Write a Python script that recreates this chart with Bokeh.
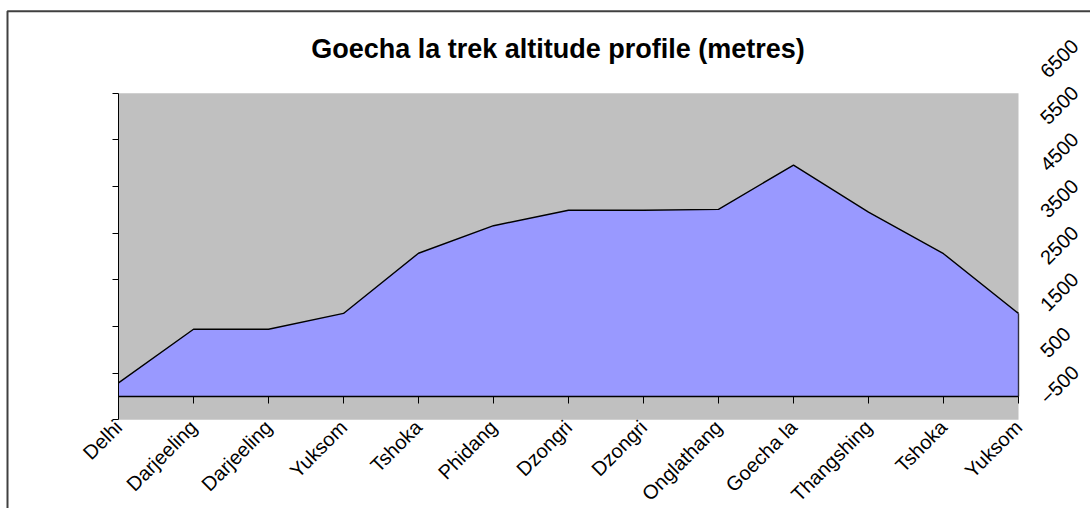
import math
from bokeh.plotting import figure
from bokeh.models import LinearAxis, FixedTicker, Range1d, Label
from bokeh.embed import file_html
from bokeh.resources import INLINE

# ---- data ----
stops = ["Delhi", "Darjeeling", "Darjeeling", "Yuksom", "Tshoka", "Phidang",
         "Dzongri", "Dzongri", "Onglathang", "Goecha la", "Thangshing",
         "Tshoka", "Yuksom"]
altitude = [290, 1440, 1440, 1780, 3070, 3660, 3990, 3990, 4010, 4960,
            3950, 3060, 1780]
value_ticks = [-500, 500, 1500, 2500, 3500, 4500, 5500, 6500]
title_text = "Goecha la trek altitude profile (metres)"

positions = list(range(len(stops)))
FONT = "Liberation Sans"

# ---- layout (pixels) ----
W, H = 1090, 508
PLOT_LEFT, PLOT_RIGHT = 118, 1018
PLOT_TOP, PLOT_BOTTOM = 92.7, 419.3
RIGHT_LABEL_SHIFT_PX = 19
BORDER_X, BORDER_Y = 7, 10.7

xs = (PLOT_RIGHT - PLOT_LEFT) / (positions[-1] - positions[0])
ys = (PLOT_BOTTOM - PLOT_TOP) / (value_ticks[-1] - value_ticks[0])
x_start = positions[0] - PLOT_LEFT / xs
x_end = positions[-1] + (W - PLOT_RIGHT) / xs
y_end = value_ticks[-1] + PLOT_TOP / ys
y_start = value_ticks[0] - (H - PLOT_BOTTOM) / ys
shift = RIGHT_LABEL_SHIFT_PX / ys


def px_to_x(px):
    return x_start + px / xs


def py_to_y(py):
    return y_end - py / ys


p = figure(width=W, height=H, output_backend="svg", toolbar_location=None,
           x_range=Range1d(x_start, x_end), y_range=Range1d(y_start, y_end),
           x_axis_location=None, y_axis_location=None,
           min_border=0, min_border_left=0, min_border_right=0,
           min_border_top=0, min_border_bottom=0,
           background_fill_color="white", border_fill_color="white",
           outline_line_color=None)
p.grid.grid_line_color = None
p.extra_y_ranges = {"labels": Range1d(y_start - shift, y_end - shift)}

# chart border (left and top edges; the rest lies outside the picture)
p.line(x=[px_to_x(BORDER_X), px_to_x(BORDER_X), px_to_x(W + 20)],
       y=[py_to_y(H + 20), py_to_y(BORDER_Y), py_to_y(BORDER_Y)],
       line_color="#404040", line_width=2)

# plot area background
p.quad(left=[positions[0]], right=[positions[-1]],
       bottom=[value_ticks[0]], top=[value_ticks[-1]],
       fill_color="#C0C0C0", line_color=None)

# area series
p.varea(x=positions, y1=0, y2=altitude, fill_color="#9999FF")
p.line(positions, altitude, line_color="black", line_width=1.4)
p.segment(x0=[positions[-1]], y0=[0], x1=[positions[-1]], y1=[altitude[-1]],
          line_color="#303040", line_width=1.4)

# left value axis: ticks only
left = LinearAxis(fixed_location=positions[0],
                  bounds=(value_ticks[0], value_ticks[-1]),
                  ticker=FixedTicker(ticks=value_ticks),
                  axis_line_color="black", axis_line_width=1,
                  major_tick_line_color="black", major_tick_out=6, major_tick_in=0,
                  minor_tick_line_color=None,
                  major_label_text_color=None)
p.add_layout(left, "left")

# right value labels
right = LinearAxis(fixed_location=positions[-1], y_range_name="labels",
                   ticker=FixedTicker(ticks=value_ticks),
                   axis_line_color=None, major_tick_line_color=None,
                   major_tick_out=0, major_tick_in=0,
                   minor_tick_line_color=None,
                   major_label_orientation=math.pi / 4,
                   major_label_standoff=25,
                   major_label_text_font=FONT,
                   major_label_text_font_size="20px",
                   major_label_text_color="black")
p.add_layout(right, "right")

# category axis line at altitude 0
zero = LinearAxis(fixed_location=0, bounds=(positions[0], positions[-1]),
                  ticker=FixedTicker(ticks=positions),
                  axis_line_color="black", axis_line_width=1.5,
                  major_tick_line_color="black", major_tick_out=7, major_tick_in=0,
                  minor_tick_line_color=None,
                  major_label_text_color=None)
p.add_layout(zero, "below")

# category labels under the plot area
cat = LinearAxis(fixed_location=value_ticks[0],
                 ticker=FixedTicker(ticks=positions),
                 major_label_overrides={i: s for i, s in zip(positions, stops)},
                 axis_line_color=None, major_tick_line_color=None,
                 major_tick_out=0, major_tick_in=0,
                 minor_tick_line_color=None,
                 major_label_orientation=math.pi / 4,
                 major_label_standoff=4,
                 major_label_text_font=FONT,
                 major_label_text_font_size="20px",
                 major_label_text_color="black")
p.add_layout(cat, "below")

# title
p.add_layout(Label(x=557.5, y=48, x_units="canvas", y_units="canvas",
                   text=title_text, text_align="center",
                   text_baseline="alphabetic", text_font=FONT,
                   text_font_size="27px", text_font_style="bold",
                   text_color="black"))

open("out.html", "w").write(file_html(p, INLINE))
